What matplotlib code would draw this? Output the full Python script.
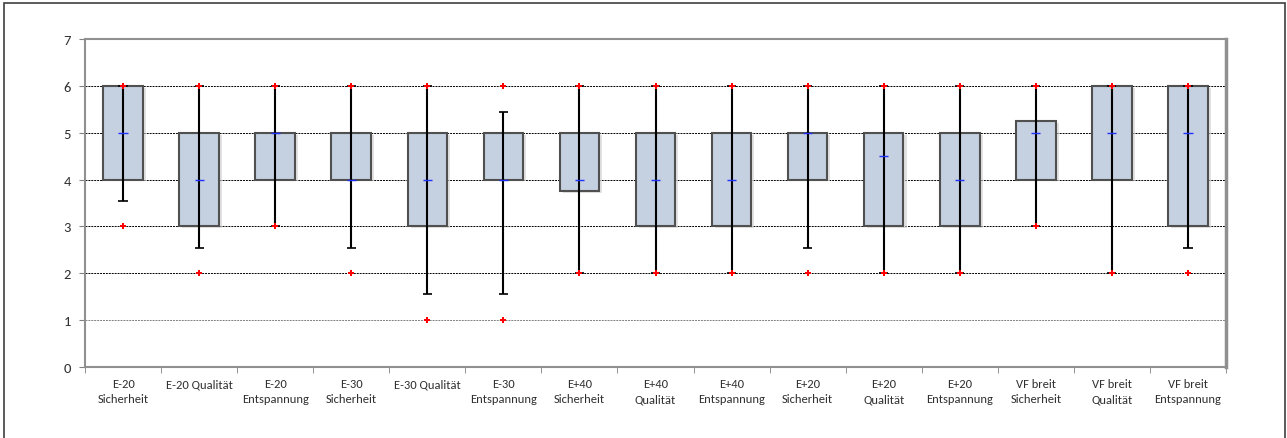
"""
Box chart: ratings per condition (Excel-style boxes with whiskers)
"""

import numpy as np
import matplotlib
matplotlib.use('Agg')
import matplotlib.pyplot as plt
from matplotlib.patches import Rectangle

plt.rcParams['font.family'] = ['Carlito', 'Liberation Sans Narrow', 'Liberation Sans', 'DejaVu Sans']

# categories (two-line labels as in the original)
labels = ['E-20\nSicherheit', 'E-20 Qualität\n', 'E-20\nEntspannung',
          'E-30\nSicherheit', 'E-30 Qualität\n', 'E-30\nEntspannung',
          'E+40\nSicherheit', 'E+40\nQualität', 'E+40\nEntspannung',
          'E+20\nSicherheit', 'E+20\nQualität', 'E+20\nEntspannung',
          'VF breit\nSicherheit', 'VF breit\nQualität', 'VF breit\nEntspannung']

# box (quartiles), median, whisker ends, red min/max markers
q1 =      [4, 3, 4, 4, 3, 4, 3.75, 3, 3, 4, 3, 3, 4, 4, 3]
q3 =      [6, 5, 5, 5, 5, 5, 5, 5, 5, 5, 5, 5, 5.25, 6, 6]
median =  [5, 4, 5, 4, 4, 4, 4, 4, 4, 5, 4.5, 4, 5, 5, 5]
wh_low =  [3.55, 2.55, 3, 2.55, 1.55, 1.55, 2, 2, 2, 2.55, 2, 2, 3, 2, 2.55]
wh_high = [6, 6, 6, 6, 6, 5.45, 6, 6, 6, 6, 6, 6, 6, 6, 6]
min_val = [3, 2, 3, 2, 1, 1, 2, 2, 2, 2, 2, 2, 3, 2, 2]
max_val = [6, 6, 6, 6, 6, 6, 6, 6, 6, 6, 6, 6, 6, 6, 6]

fig = plt.figure(figsize=(12.87, 4.39), dpi=100)
ax = fig.add_axes([85 / 1287, 71 / 439, 1141 / 1287, 328 / 439])

x = np.arange(len(labels))
q1 = np.array(q1)
q3 = np.array(q3)

# shadow behind boxes
ax.bar(x + 0.04, q3 - q1, width=0.52, bottom=q1 - 0.04, color='#d0d0d0',
       alpha=0.6, zorder=2, linewidth=0)
ax.bar(x, q3 - q1, width=0.52, bottom=q1, color='#c5d0e0', edgecolor='#505050',
       linewidth=1.5, zorder=3)

# whiskers
wl = np.array(wh_low)
wh = np.array(wh_high)
ax.vlines(x, wl, wh, color='black', linewidth=1.5, zorder=4)
ax.hlines(wl, x - 0.06, x + 0.06, color='black', linewidth=1.2, zorder=4)
ax.hlines(wh, x - 0.06, x + 0.06, color='black', linewidth=1.2, zorder=4)

# median ticks
ax.hlines(median, x - 0.06, x + 0.06, color='#2030ff', linewidth=1.0, zorder=5)

# min / max markers
ax.plot(x, max_val, linestyle='none', marker='P', markersize=4.5, color='red',
        markeredgewidth=0, zorder=6)
ax.plot(x, min_val, linestyle='none', marker='P', markersize=4.5, color='red',
        markeredgewidth=0, zorder=6)

ax.set_xlim(-0.5, len(labels) - 0.5)
ax.set_ylim(0, 7)
ax.set_yticks(range(8))
ax.set_xticks(x)
ax.set_xticklabels(labels, fontsize=9, linespacing=1.45, color='#303030')
ax.set_xticks(np.arange(-0.5, len(labels)), minor=True)
ax.tick_params(axis='x', which='major', length=0, pad=8)
ax.tick_params(axis='x', which='minor', length=4, color='#808080')
ax.tick_params(axis='y', length=4, color='#808080', labelsize=10.5, pad=6,
               labelcolor='#303030')

for y in range(1, 7):
    ax.axhline(y, color='black' if y > 1 else '#808080', linestyle=(0, (2, 1)),
               linewidth=0.7, zorder=1)

for side in ['top', 'left', 'bottom', 'right']:
    ax.spines[side].set_color('#909090')
    ax.spines[side].set_linewidth(1.5)
ax.spines['right'].set_linewidth(2.5)

# outer chart border
fig.patches.append(Rectangle((4 / 1287, -0.05), 1281 / 1287, 1.05 - 4 / 439,
                             transform=fig.transFigure, fill=False,
                             edgecolor='#404040', linewidth=1.2))

fig.savefig('out.png', dpi=100)
